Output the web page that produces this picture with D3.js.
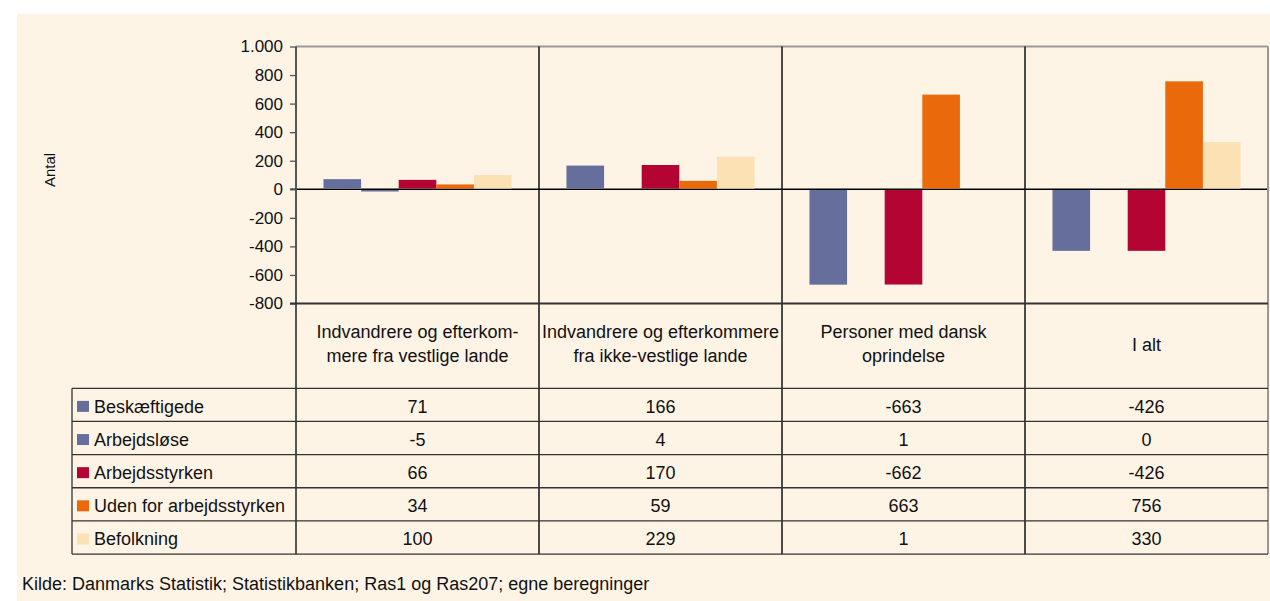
<!DOCTYPE html>
<html><head><meta charset="utf-8">
<script src="https://cdn.jsdelivr.net/npm/d3@7"></script>
<style>
body{margin:0;background:#fff;}
svg{display:block;font-family:Arial,"Liberation Sans",sans-serif;}
</style></head>
<body><svg id="chart" width="1270" height="601"></svg>
<script>
// ---- data ----
const categories = ["vestlige", "ikkeVestlige", "dansk", "iAlt"];
const categoryLabels = [
  ["Indvandrere og efterkom-", "mere fra vestlige lande"],
  ["Indvandrere og efterkommere", "fra ikke-vestlige lande"],
  ["Personer med dansk", "oprindelse"],
  ["I alt"]
];
const seriesNames = ["Beskæftigede", "Arbejdsløse", "Arbejdsstyrken", "Uden for arbejdsstyrken", "Befolkning"];
const seriesColors = ["#666f9c", "#666f9c", "#b30434", "#ea690b", "#fbe1b3"];
const beskaeftigede = [71, 166, -663, -426];
const arbejdsloese = [-5, 4, 1, 0];
const arbejdsstyrken = [66, 170, -662, -426];
const udenFor = [34, 59, 663, 756];
const befolkning = [100, 229, 1, 330];
const seriesValues = [beskaeftigede, arbejdsloese, arbejdsstyrken, udenFor, befolkning];
const yTicks = [-800, -600, -400, -200, 0, 200, 400, 600, 800, 1000];
const yLabel = "Antal";
const sourceText = "Kilde: Danmarks Statistik; Statistikbanken; Ras1 og Ras207; egne beregninger";

// ---- layout ----
const svg = d3.select("#chart");
const plotLeft = 296, plotRight = 1268, plotTop = 46.5, plotBottom = 303.5;
const tableLeft = 72, rowTop = 388.3, rowH = 33.15;
const nRows = seriesNames.length;
const tableBottom = rowTop + nRows * rowH;

svg.append("rect").attr("x", 17).attr("y", 14).attr("width", 1270 - 17).attr("height", 601 - 14).attr("fill", "#fef4e6");

const y = d3.scaleLinear().domain([-800, 1000]).range([plotBottom, plotTop]);
const x = d3.scaleBand().domain(categories).range([plotLeft, plotRight]).paddingInner(0).paddingOuter(0);
const xs = d3.scaleBand().domain(seriesNames).range([0, x.bandwidth()]).paddingInner(0).paddingOuter(0.73);

const loc = d3.formatLocale({decimal: ",", thousands: ".", grouping: [3], currency: ["", " kr"], minus: "-"});
const fmt = loc.format(",d");

// zero line (under bars so tiny bars stay visible)
svg.append("line").attr("x1", plotLeft - 6).attr("x2", plotRight).attr("y1", y(0)).attr("y2", y(0)).attr("stroke", "#000").attr("stroke-width", 1.5);

// bars
const barData = [];
seriesNames.forEach((s, si) => categories.forEach((c, ci) => barData.push({s, c, v: seriesValues[si][ci], color: seriesColors[si]})));
svg.append("g").selectAll("rect").data(barData).join("rect")
  .attr("x", d => x(d.c) + xs(d.s))
  .attr("width", xs.bandwidth())
  .attr("y", d => d.v >= 0 ? y(d.v) : y(0) + 0.75)
  .attr("height", d => d.v >= 0 ? Math.max(0, y(0) - y(d.v) - 0.75) : Math.max(1.5, y(d.v) - y(0)))
  .attr("fill", d => d.color);

// plot frame lines
svg.append("line").attr("x1", plotLeft).attr("x2", plotRight).attr("y1", plotTop).attr("y2", plotTop).attr("stroke", "#999").attr("stroke-width", 2);
svg.append("line").attr("x1", plotRight).attr("x2", plotRight).attr("y1", plotTop).attr("y2", tableBottom).attr("stroke", "#999").attr("stroke-width", 2);
// category separators through plot and table
svg.append("g").selectAll("line").data(categories.slice(1)).join("line")
  .attr("x1", d => x(d)).attr("x2", d => x(d)).attr("y1", plotTop).attr("y2", tableBottom)
  .attr("stroke", "#111").attr("stroke-width", 1.5);

// y axis
const yAxis = d3.axisLeft(y).tickValues(yTicks).tickFormat(fmt).tickSize(6).tickPadding(7);
const ga = svg.append("g").attr("transform", `translate(${plotLeft},0)`).call(yAxis);
ga.select(".domain").remove();
ga.selectAll(".tick line").attr("stroke", "#555").attr("stroke-width", 1.3);
ga.selectAll(".tick text").attr("font-size", 17).attr("fill", "#111").attr("font-family", "Arial, 'Liberation Sans', sans-serif");
svg.append("line").attr("x1", plotLeft).attr("x2", plotLeft).attr("y1", plotTop).attr("y2", tableBottom).attr("stroke", "#555").attr("stroke-width", 2);

// plot bottom line
svg.append("line").attr("x1", plotLeft - 6).attr("x2", plotRight).attr("y1", plotBottom).attr("y2", plotBottom).attr("stroke", "#333").attr("stroke-width", 2);

// y label
svg.append("text").attr("transform", `translate(55,170) rotate(-90)`).attr("text-anchor", "middle")
  .attr("font-size", 15).attr("fill", "#111").text(yLabel);

// table horizontal lines
const rowLines = d3.range(nRows + 1).map(i => rowTop + i * rowH);
svg.append("g").selectAll("line").data(rowLines).join("line")
  .attr("x1", tableLeft).attr("x2", plotRight).attr("y1", d => d).attr("y2", d => d)
  .attr("stroke", "#333").attr("stroke-width", 1.3);
svg.append("line").attr("x1", tableLeft).attr("x2", tableLeft).attr("y1", rowTop).attr("y2", tableBottom).attr("stroke", "#333").attr("stroke-width", 1.3);

// header labels
const hdr = svg.append("g").attr("font-size", 18).attr("fill", "#111").attr("text-anchor", "middle");
categories.forEach((c, ci) => {
  const lines = categoryLabels[ci];
  const n = lines.length;
  lines.forEach((t, i) => {
    hdr.append("text").attr("x", x(c) + x.bandwidth() / 2)
      .attr("y", (n === 1 ? 350.5 : 350) + (i - (n - 1) / 2) * 24.2).text(t);
  });
});

// table rows
const rows = svg.append("g").attr("font-size", 18).attr("fill", "#111");
seriesNames.forEach((s, si) => {
  const cy = rowTop + si * rowH + rowH / 2;
  rows.append("rect").attr("x", 77).attr("y", cy - 4).attr("width", 12).attr("height", 11).attr("fill", seriesColors[si]);
  rows.append("text").attr("x", 94).attr("y", cy + 8).text(s);
  categories.forEach((c, ci) => {
    rows.append("text").attr("x", x(c) + x.bandwidth() / 2).attr("y", cy + 8)
      .attr("text-anchor", "middle").text(fmt(seriesValues[si][ci]));
  });
});

// source
svg.append("text").attr("x", 22).attr("y", 590).attr("font-size", 18).attr("fill", "#111").text(sourceText);
</script></body></html>
